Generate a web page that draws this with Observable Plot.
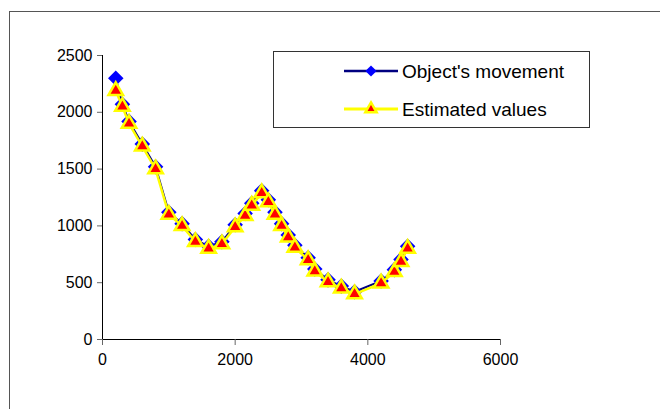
<!DOCTYPE html>
<html><head><meta charset="utf-8">
<script src="https://cdn.jsdelivr.net/npm/d3@7"></script>
<script src="https://cdn.jsdelivr.net/npm/@observablehq/plot@0.6"></script>
<style>
html,body{margin:0;padding:0;background:#fff;}
#wrap{position:relative;width:660px;height:409px;overflow:hidden;font-family:"Liberation Sans",Arial,sans-serif;}
#frame{position:absolute;left:9px;top:11px;width:700px;height:450px;border:1px solid #555;}
#wrap svg.chart{position:absolute;left:0;top:0;}
#legend{position:absolute;left:273px;top:51px;width:315px;height:75px;border:1px solid #333;background:#fff;}
#legend svg{position:absolute;left:0;top:0;}
</style></head><body><div id="wrap"><div id="frame"></div></div>
<script>
const xValues   = [200,300,400,600,800,1000,1200,1400,1600,1800,2000,2150,2250,2400,2500,2600,2700,2800,2900,3100,3200,3400,3600,3800,4200,4400,4500,4600];
const movement  = [2300,2070,1920,1720,1520,1120,1020,880,820,860,1010,1110,1200,1310,1230,1120,1020,920,830,720,620,525,470,420,515,615,705,820];
const estimated = [2190,2050,1900,1700,1500,1100,1000,860,800,840,990,1090,1180,1290,1210,1100,1000,900,810,700,600,505,450,400,495,595,685,800];
const seriesNames = ["Object's movement","Estimated values"];
const xTicks = [0,2000,4000,6000];
const yTicks = [0,500,1000,1500,2000,2500];

const moveData = xValues.map((x,i)=>({x, y: movement[i]}));
const estData  = xValues.map((x,i)=>({x, y: estimated[i]}));

const chart = Plot.plot({
  width:660, height:409,
  marginLeft:102, marginRight:160, marginTop:55, marginBottom:70,
  style:{fontFamily:"Liberation Sans, Arial, sans-serif", fontSize:"16px", background:"transparent", overflow:"visible", color:"#000"},
  x:{domain:[0,6000]},
  y:{domain:[0,2500]},
  marks:[
    Plot.ruleX([0],{stroke:"#000"}),
    Plot.ruleY([0],{stroke:"#000"}),
    Plot.axisY({ticks:yTicks, tickSize:5, tickPadding:5, stroke:"#666", fill:"#000", label:null, fontSize:16, tickFormat:"d"}),
    Plot.axisX({ticks:xTicks, tickSize:6, tickPadding:8, stroke:"#666", fill:"#000", label:null, fontSize:16, tickFormat:"d"}),
    Plot.line(moveData,{x:"x", y:"y", stroke:"#000080", strokeWidth:2}),
    Plot.dot(moveData,{x:"x", y:"y", symbol:"diamond2", r:7, fill:"#0000FF", stroke:"none"}),
    Plot.line(estData,{x:"x", y:"y", stroke:"#FFFF00", strokeWidth:2.5}),
    Plot.dot(estData,{x:"x", y:"y", symbol:"triangle", r:5.4, fill:"#FF0000", stroke:"#FFFF00", strokeWidth:2.5})
  ]
});
chart.classList.add("chart");
document.getElementById("wrap").appendChild(chart);

// legend
const leg = d3.select("#wrap").append("div").attr("id","legend");
const lsvg = leg.append("svg").attr("width",315).attr("height",75);
const rows = [
  {name: seriesNames[0], line:"#000080", lw:2.5, sym:d3.symbolDiamond2, size:80, fill:"#0000FF", stroke:"none", sw:0},
  {name: seriesNames[1], line:"#FFFF00", lw:3, sym:d3.symbolTriangle, size:55, fill:"#FF0000", stroke:"#FFFF00", sw:2.5}
];
rows.forEach((r,i)=>{
  const cy = 19 + i*38;
  const g = lsvg.append("g").attr("transform",`translate(0,${cy})`);
  g.append("line").attr("x1",70).attr("x2",124).attr("y1",0).attr("y2",0).attr("stroke",r.line).attr("stroke-width",r.lw);
  g.append("path").attr("d",d3.symbol(r.sym,r.size)()).attr("transform","translate(97,0)").attr("fill",r.fill).attr("stroke",r.stroke).attr("stroke-width",r.sw);
  g.append("text").attr("x",128).attr("y",0).attr("dy","0.35em").attr("font-size",19).attr("font-family","Liberation Sans, Arial, sans-serif").attr("fill","#000").text(r.name);
});
</script>
</body></html>
